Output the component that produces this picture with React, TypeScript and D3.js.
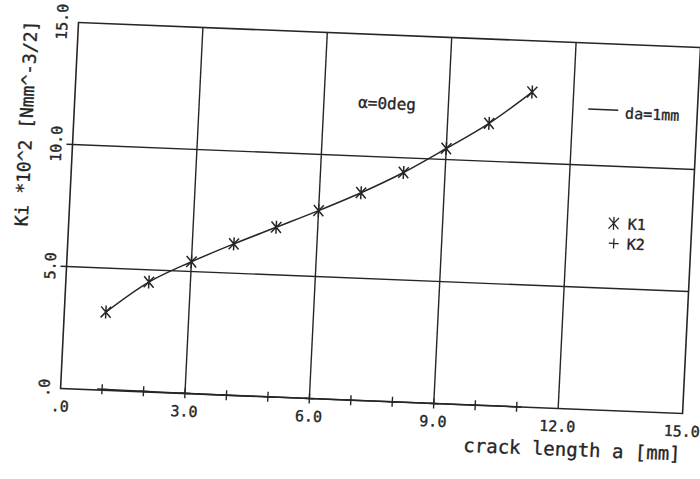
import React, { useEffect, useRef } from "react";
import * as d3 from "d3";

// crack length a [mm]
const crackLength = [1, 2, 3, 4, 5, 6, 7, 8, 9, 10, 11];
// stress intensity factors, Ki * 10^2 [Nmm^-3/2]
const k1Values = [3.2, 4.5, 5.4, 6.2, 6.95, 7.7, 8.5, 9.4, 10.45, 11.55, 12.9];
const k2Values = [0.04, 0.02, 0.01, 0, 0, 0, 0, 0, 0, 0, 0];

const xTicks = [0, 3, 6, 9, 12, 15];
const yTicks = [0, 5, 10, 15];
const fmt = (v: number) => (v === 0 ? ".0" : v.toFixed(1));

const App = () => {
  const svgRef = useRef<SVGSVGElement>(null);

  useEffect(() => {
    const svg = d3.select(svgRef.current);
    svg.selectAll("*").remove();

    const W = 622, H = 366;
    const ink = "#262626";
    const font = "'DejaVu Sans Mono', 'Liberation Mono', monospace";

    // the scanned plot is slightly skewed, so draw in a sheared frame
    const g = svg.append("g")
      .attr("transform", "matrix(1,0.0402,-0.049,1,78.5,22.5)");

    const x = d3.scaleLinear().domain([0, 15]).range([0, W]);
    const y = d3.scaleLinear().domain([0, 15]).range([H, 0]);

    // plotter-ish text: a thin outline makes the glyphs a bit heavier
    const txt = (sel: any, size: number) =>
      sel.attr("font-family", font).attr("font-size", size)
        .attr("fill", ink).attr("stroke", ink).attr("stroke-width", 0.35);

    // grid
    g.selectAll(".vgrid")
      .data([3, 6, 9, 12])
      .join("line")
      .attr("x1", d => x(d)).attr("x2", d => x(d))
      .attr("y1", 0).attr("y2", H)
      .attr("stroke", ink).attr("stroke-width", 1.4);

    g.selectAll(".hgrid")
      .data([5, 10])
      .join("line")
      .attr("x1", -6).attr("x2", W)
      .attr("y1", d => y(d)).attr("y2", d => y(d))
      .attr("stroke", ink).attr("stroke-width", 1.4);

    g.append("rect")
      .attr("x", 0).attr("y", 0).attr("width", W).attr("height", H)
      .attr("fill", "none").attr("stroke", ink).attr("stroke-width", 1.6);

    // tick labels
    txt(g.selectAll(".xlab")
      .data(xTicks)
      .join("text")
      .attr("x", d => x(d)).attr("y", H + 23)
      .attr("text-anchor", "middle"), 15)
      .text(d => fmt(d));

    txt(g.selectAll(".ylab")
      .data(yTicks)
      .join("text")
      .attr("transform", d => `translate(-11,${y(d)}) rotate(-90)`)
      .attr("text-anchor", "middle"), 15)
      .text(d => fmt(d));

    // axis titles
    txt(g.append("text")
      .attr("x", W).attr("y", H + 47)
      .attr("text-anchor", "end"), 19)
      .text("crack length a [mm]");

    txt(g.append("text")
      .attr("transform", "translate(-41,0) rotate(-90)")
      .attr("text-anchor", "end"), 18)
      .text("Ki *10^2 [Nmm^-3/2]");

    // K1 / K2 curves and markers
    const k1 = crackLength.map((a, i) => [a, k1Values[i]] as [number, number]);
    const k2 = crackLength.map((a, i) => [a, k2Values[i]] as [number, number]);

    const line = d3.line<[number, number]>()
      .x(d => x(d[0]))
      .y(d => y(d[1]))
      .curve(d3.curveCatmullRom);

    g.append("path")
      .datum(k1)
      .attr("d", line)
      .attr("fill", "none").attr("stroke", ink).attr("stroke-width", 1.5);

    g.append("path")
      .datum(k2)
      .attr("d", line)
      .attr("fill", "none").attr("stroke", ink).attr("stroke-width", 1.5);

    const star = (px: number, py: number) =>
      `M${px - 5},${py - 5.5}L${px + 5},${py + 5.5}M${px + 5},${py - 5.5}L${px - 5},${py + 5.5}M${px},${py - 6.5}L${px},${py + 6.5}`;
    const plus = (px: number, py: number) =>
      `M${px - 5},${py}L${px + 5},${py}M${px},${py - 5}L${px},${py + 5}`;

    g.selectAll(".k1m")
      .data(k1)
      .join("path")
      .attr("d", d => star(x(d[0]), y(d[1])))
      .attr("stroke", ink).attr("stroke-width", 1.5).attr("fill", "none");

    g.selectAll(".k2m")
      .data(k2)
      .join("path")
      .attr("d", d => plus(x(d[0]), y(d[1])))
      .attr("stroke", ink).attr("stroke-width", 1.4).attr("fill", "none");

    // annotation
    txt(g.append("text")
      .attr("x", 312).attr("y", 74)
      .attr("text-anchor", "middle"), 16)
      .text("α=0deg");

    // legend
    g.append("line")
      .attr("x1", 513).attr("x2", 543).attr("y1", 66).attr("y2", 66)
      .attr("stroke", ink).attr("stroke-width", 1.5);
    txt(g.append("text")
      .attr("x", 550).attr("y", 74), 15)
      .text("da=1mm");

    g.append("path")
      .attr("d", star(544, 179))
      .attr("stroke", ink).attr("stroke-width", 1.3).attr("fill", "none");
    txt(g.append("text")
      .attr("x", 558).attr("y", 184.5), 15)
      .text("K1");
    g.append("path")
      .attr("d", plus(545, 199))
      .attr("stroke", ink).attr("stroke-width", 1.3).attr("fill", "none");
    txt(g.append("text")
      .attr("x", 558).attr("y", 204.5), 15)
      .text("K2");
  }, []);

  return (
    <svg
      ref={svgRef}
      width={700}
      height={479}
      style={{ position: "absolute", left: 0, top: 0, background: "#fff" }}
    />
  );
};

export default App;
